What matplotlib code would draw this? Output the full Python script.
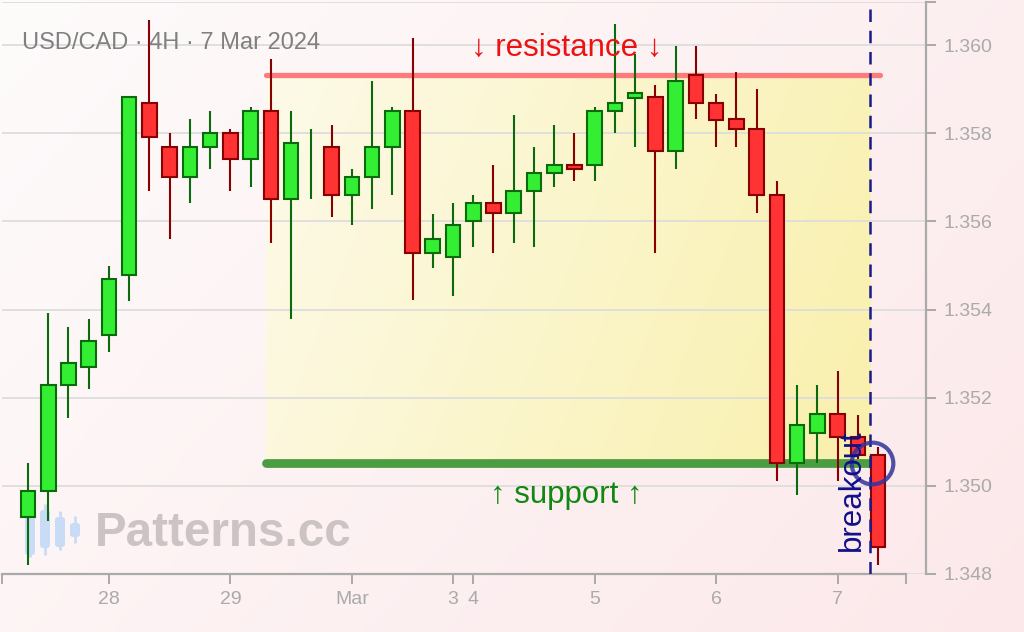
import numpy as np
import matplotlib
matplotlib.use('Agg')
import matplotlib.pyplot as plt
from matplotlib.patches import FancyBboxPatch

plt.rcParams['font.family'] = ['Liberation Sans', 'DejaVu Sans']

# USD/CAD 4H candles, 27 Feb - 7 Mar 2024
opens = [1.34929, 1.34988, 1.35229, 1.35270, 1.35343, 1.35478, 1.35869, 1.35769, 1.35701, 1.35769,
         1.35801, 1.35741, 1.35851, 1.35650, 1.35730, 1.35769, 1.35660, 1.35701, 1.35769, 1.35851,
         1.35528, 1.35519, 1.35602, 1.35642, 1.35620, 1.35670, 1.35709, 1.35729, 1.35727, 1.35850,
         1.35881, 1.35883, 1.35759, 1.35933, 1.35869, 1.35833, 1.35810, 1.35660, 1.35051, 1.35119,
         1.35162, 1.35112, 1.35071]
highs = [1.35051, 1.35392, 1.35360, 1.35378, 1.35500, 1.35885, 1.36058, 1.35800, 1.35832, 1.35850,
         1.35809, 1.35859, 1.35968, 1.35850, 1.35809, 1.35818, 1.35718, 1.35918, 1.35859, 1.36017,
         1.35618, 1.35641, 1.35659, 1.35727, 1.35841, 1.35769, 1.35818, 1.35800, 1.35859, 1.36049,
         1.35981, 1.35909, 1.35999, 1.35999, 1.35890, 1.35940, 1.35900, 1.35691, 1.35228, 1.35228,
         1.35260, 1.35160, 1.35089]
lows = [1.34821, 1.34921, 1.35153, 1.35220, 1.35303, 1.35419, 1.35670, 1.35561, 1.35643, 1.35719,
        1.35670, 1.35679, 1.35552, 1.35379, 1.35651, 1.35611, 1.35592, 1.35629, 1.35660, 1.35422,
        1.35494, 1.35431, 1.35543, 1.35529, 1.35552, 1.35543, 1.35679, 1.35692, 1.35692, 1.35801,
        1.35769, 1.35529, 1.35719, 1.35833, 1.35769, 1.35769, 1.35620, 1.35012, 1.34980, 1.35053,
        1.35012, 1.35060, 1.34821]
closes = [1.34989, 1.35230, 1.35279, 1.35329, 1.35470, 1.35883, 1.35791, 1.35701, 1.35769, 1.35801,
          1.35741, 1.35851, 1.35650, 1.35778, 1.35730, 1.35660, 1.35701, 1.35769, 1.35851, 1.35528,
          1.35561, 1.35592, 1.35642, 1.35620, 1.35670, 1.35710, 1.35729, 1.35718, 1.35851, 1.35869,
          1.35892, 1.35759, 1.35919, 1.35868, 1.35831, 1.35809, 1.35659, 1.35051, 1.35139, 1.35162,
          1.35112, 1.35069, 1.34861]

day_ticks = [4, 10, 16, 21, 22, 28, 34, 40]
day_labels = ['28', '29', 'Mar', '3', '4', '5', '6', '7']
price_ticks = [1.348, 1.350, 1.352, 1.354, 1.356, 1.358, 1.360]

resistance = 1.35932
support = 1.35052
zone_start, zone_end = 11.75, 41.6
breakout_x = 41.6

W, H = 1024, 632
fig = plt.figure(figsize=(W / 100, H / 100), dpi=100)

# pinkish background with watermark, in pixel coords
bg = fig.add_axes([0, 0, 1, 1], zorder=-10)
gx, gy = np.meshgrid(np.linspace(0, 1, 256), np.linspace(0, 1, 256))
t = np.clip(0.65 * gx + 0.35 * gy, 0, 1)[..., None]
c0 = np.array([254, 251, 251]) / 255
c1 = np.array([252, 232, 234]) / 255
bg.imshow(c0 + (c1 - c0) * t, extent=[0, W, H, 0], aspect='auto')
bg.set_xlim(0, W)
bg.set_ylim(H, 0)
bg.axis('off')

# little logo candles
for x0, b0, b1, w0, w1 in [(25, 500, 555, 497, 557), (40, 510, 548, 504, 555),
                           (55, 517, 547, 511, 550), (70, 523, 537, 516, 543)]:
    bg.plot([x0 + 5, x0 + 5], [w0, w1], color='#c9dcf6', lw=2, solid_capstyle='butt')
    bg.add_patch(FancyBboxPatch((x0, b0), 10, b1 - b0, boxstyle='round,pad=0,rounding_size=3',
                                fc='#c9dcf6', ec='none'))
bg.text(95, 533, 'Patterns.cc', fontsize=34.3, fontweight='bold', color='#cbc3c4',
        ha='left', va='center')

ax = fig.add_axes([2 / W, 58 / H, 924 / W, 572 / H])
ax.patch.set_alpha(0)

# shaded range between support and resistance
zx, zy = np.meshgrid(np.linspace(0, 1, 256), np.linspace(0, 1, 64))
zt = np.clip(0.8 * zx + 0.2 * zy, 0, 1)[..., None]
z0 = np.array([253, 250, 233]) / 255
z1 = np.array([249, 240, 172]) / 255
ax.imshow(z0 + (z1 - z0) * zt, extent=[zone_start, zone_end, support, resistance],
          aspect='auto', zorder=0)

ax.plot([zone_start, 42.1], [resistance, resistance], color='#ff7b7b', lw=3.8,
        solid_capstyle='round', zorder=2)
ax.plot([zone_start, 42.1], [support, support], color='#4c9c42', lw=6.3,
        solid_capstyle='round', zorder=2)

# candles
idx = np.arange(len(opens))
o = np.array(opens)
c = np.array(closes)
up = c >= o
face = np.where(up, '#33ee33', '#ff3333')
edge = np.where(up, '#0b6a0b', '#880000')
ax.vlines(idx, lows, highs, colors=edge, lw=1.5, zorder=3)
body = np.abs(c - o) > 1e-7
ax.bar(idx[body], (c - o)[body], bottom=o[body], width=0.72, color=face[body],
       edgecolor=edge[body], linewidth=1.5, zorder=4)

ax.axvline(breakout_x, color='#1a1a8a', lw=1.8, ls=(0, (5, 3.5)), zorder=5)
ax.plot([41.7], [support], 'o', ms=30, mfc='none', mec='#33339a', mew=3, alpha=0.85, zorder=6)

ax.text(26.6, 1.35994, '\u2193 resistance \u2193', color='#ee1111', fontsize=22.5,
        ha='center', va='center', zorder=6)
ax.text(26.6, 1.34979, '\u2191 support \u2191', color='#118811', fontsize=22.5,
        ha='center', va='center', zorder=6)
ax.text(40.7, 1.34991, 'breakout', color='#10108a', fontsize=22.5, rotation=90,
        ha='center', va='center', zorder=6)
ax.text(0.0216, 0.928, 'USD/CAD \u00b7 4H \u00b7 7 Mar 2024', transform=ax.transAxes,
        color='#808080', fontsize=17, ha='left', va='center')

x_left, x_right = -1.285, 44.37
y_top = 1.36098
ax.set_xlim(x_left, x_right)
ax.set_ylim(1.348, y_top)

ax.set_xticks([x_left] + day_ticks + [43.38])
ax.set_xticklabels([''] + day_labels + [''])
ax.yaxis.tick_right()
ax.set_yticks(price_ticks + [y_top])
ax.set_yticklabels(['%.3f' % p for p in price_ticks] + [''])
ax.tick_params(axis='both', colors='#aaaaaa', labelcolor='#aaaaaa', labelsize=14,
               length=7, width=1.4, pad=5.5)
ax.grid(axis='y', color='#dddddd', lw=1.3, zorder=1)
ax.set_axisbelow(True)

for s in ['top', 'left']:
    ax.spines[s].set_visible(False)
ax.spines['bottom'].set_bounds(x_left, 43.38)
for s in ['bottom', 'right']:
    ax.spines[s].set_color('#aaaaaa')
    ax.spines[s].set_linewidth(1.6)

fig.savefig('out.png', dpi=100)
